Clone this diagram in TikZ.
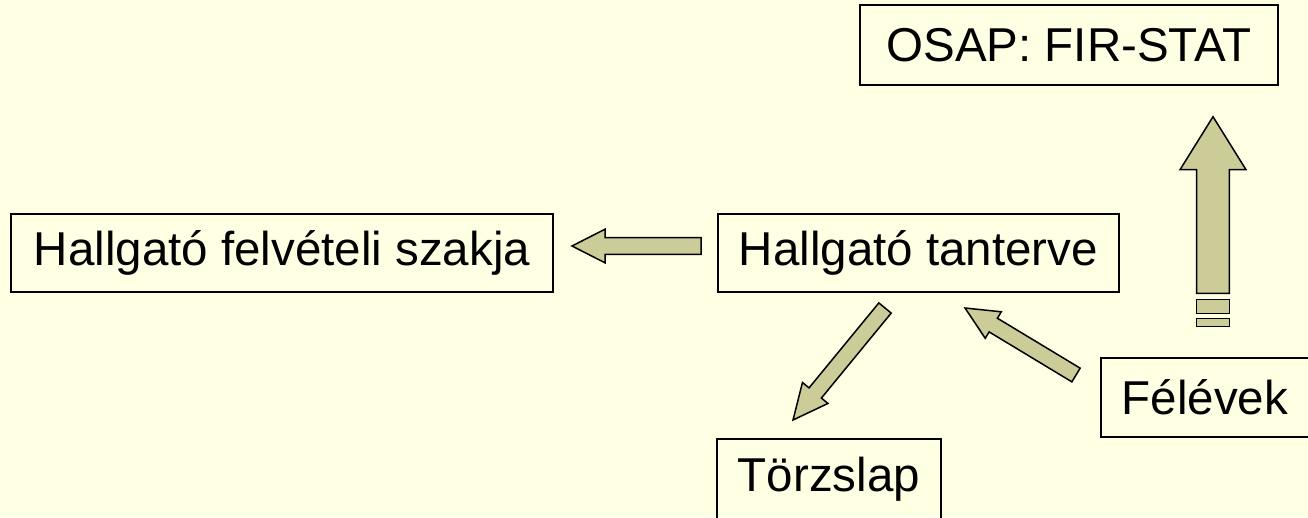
\documentclass[tikz,border=0pt]{standalone}
\usepackage{fontspec}
\setmainfont{Liberation Sans}
\usetikzlibrary{calc}
\definecolor{bgcol}{HTML}{FFFFE3}
\definecolor{arrowcol}{HTML}{CCCC99}
\tikzset{
  box/.style={draw=black,line width=1.6pt,font=\fontsize{47.5}{56}\selectfont,inner sep=0pt,anchor=center},
  blockarr/.style={draw=black,fill=arrowcol,line width=1.5pt,line join=miter}
}
\newcommand\myblockarrow[5]{%
  \coordinate (hb) at ($(#2)!#5!(#1)$);
  \path[blockarr] ($(#1)!#3!90:(#2)$) -- ($(hb)!#3!-90:(#1)$) -- ($(hb)!#4!-90:(#1)$) -- (#2)
    -- ($(hb)!#4!90:(#1)$) -- ($(hb)!#3!90:(#1)$) -- ($(#1)!#3!-90:(#2)$) -- cycle;}
\begin{document}
\begin{tikzpicture}[x=1pt,y=-1pt]
\fill[bgcol] (0,0) rectangle (1308,517);
\useasboundingbox (0,0) rectangle (1308,517);
\clip (0,0) rectangle (1308,517);
% boxes
\node[box,minimum width=418pt,minimum height=80pt] (osap) at (1069,45) {OSAP: FIR-STAT};
\node[box,minimum width=542pt,minimum height=78pt] (szak) at (282,253) {Hallgató felvételi szakja};
\node[box,minimum width=401pt,minimum height=78pt] (tant) at (918.5,253) {Hallgató tanterve};
\node[box,minimum width=208pt,minimum height=79pt] (felev) at (1205,397.5) {Félévek};
\node[box,minimum width=224pt,minimum height=80pt] (torzs) at (829,479) {Törzslap};
% arrows
\coordinate (a1t) at (701,246);
\coordinate (a1h) at (572,246);
\myblockarrow{a1t}{a1h}{8.3pt}{16.8pt}{33pt}
\coordinate (a2t) at (1213,293.3);
\coordinate (a2h) at (1213,116.7);
\myblockarrow{a2t}{a2h}{16.3pt}{33pt}{53pt}
\path[blockarr] (1196.7,299.3) rectangle (1229.3,313.3);
\path[blockarr] (1196.7,318.7) rectangle (1229.3,326.7);
\coordinate (a3t) at (885,308);
\coordinate (a3h) at (793,420);
\myblockarrow{a3t}{a3h}{8pt}{16.5pt}{35pt}
\coordinate (a4t) at (1076,375);
\coordinate (a4h) at (965,308);
\myblockarrow{a4t}{a4h}{8pt}{15.5pt}{33pt}
\end{tikzpicture}
\end{document}
